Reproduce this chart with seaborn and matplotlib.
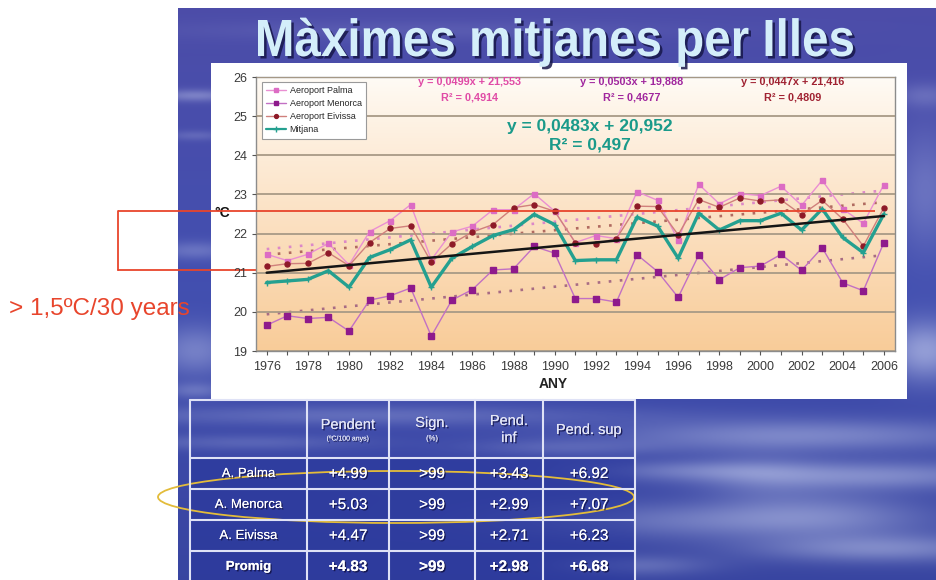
import numpy as np
import pandas as pd
import matplotlib
matplotlib.use("Agg")
import matplotlib.pyplot as plt
import seaborn as sns
from matplotlib import patheffects as pe
from matplotlib.patches import Rectangle, Ellipse, PathPatch
from matplotlib.lines import Line2D
from matplotlib.textpath import TextPath
from matplotlib.font_manager import FontProperties
from matplotlib.transforms import Affine2D

# ---------------- data ----------------
years = list(range(1976, 2007))
palma = [21.47, 21.31, 21.47, 21.75, 21.20, 22.05, 22.33, 22.74, 21.33, 22.04,
         22.19, 22.61, 22.61, 23.02, 22.57, 21.77, 21.95, 21.87, 23.07, 22.85,
         21.83, 23.26, 22.76, 23.02, 22.97, 23.21, 22.72, 23.36, 22.63, 22.26, 23.25]
menorca = [19.66, 19.90, 19.83, 19.86, 19.51, 20.30, 20.41, 20.61, 19.38, 20.30,
           20.57, 21.07, 21.10, 21.67, 21.50, 20.34, 20.34, 20.25, 21.46, 21.03,
           20.37, 21.45, 20.82, 21.13, 21.17, 21.47, 21.06, 21.64, 20.74, 20.54, 21.77]
eivissa = [21.16, 21.23, 21.24, 21.51, 21.18, 21.77, 22.13, 22.20, 21.27, 21.74,
           22.04, 22.23, 22.66, 22.74, 22.57, 21.77, 21.74, 21.87, 22.70, 22.69,
           21.97, 22.87, 22.67, 22.91, 22.83, 22.86, 22.48, 22.85, 22.37, 21.68, 22.66]
mitjana = [20.75, 20.79, 20.83, 21.05, 20.63, 21.39, 21.59, 21.84, 20.63, 21.37,
           21.67, 21.95, 22.10, 22.49, 22.23, 21.31, 21.33, 21.33, 22.42, 22.19,
           21.37, 22.52, 22.09, 22.33, 22.33, 22.52, 22.09, 22.63, 21.90, 21.51, 22.50]

series_names = ["Aeroport Palma", "Aeroport Menorca", "Aeroport Eivissa", "Mitjana"]
trend_slope = [0.0499, 0.0503, 0.0447, 0.0483]
trend_intercept = [21.553, 19.888, 21.416, 20.952]
trend_r2 = ["0,4914", "0,4677", "0,4809", "0,497"]
trend_eq = ["y = 0,0499x + 21,553", "y = 0,0503x + 19,888",
            "y = 0,0447x + 21,416", "y = 0,0483x + 20,952"]

table_rows = ["A. Palma", "A. Menorca", "A. Eivissa", "Promig"]
pendent = ["+4.99", "+5.03", "+4.47", "+4.83"]
signif = [">99", ">99", ">99", ">99"]
pend_inf = ["+3.43", "+2.99", "+2.71", "+2.98"]
pend_sup = ["+6.92", "+7.07", "+6.23", "+6.68"]

# ---------------- style ----------------
sns.set_theme(style="white")
plt.rcParams["font.family"] = ["Liberation Sans", "DejaVu Sans"]

W, H = 936, 580
fig = plt.figure(figsize=(W / 100, H / 100), dpi=100)

# slide background (blue sky with soft cloud streaks)
bg = fig.add_axes([0, 0, 1, 1], zorder=0)
bg.set_xlim(0, W)
bg.set_ylim(H, 0)
bg.axis("off")

yy, xx = np.mgrid[0:H, 0:W].astype(float)
top = np.array([0.30, 0.30, 0.66])
mid = np.array([0.26, 0.31, 0.69])
bot = np.array([0.22, 0.27, 0.63])
t = (yy / H)[..., None]
base = np.where(t < 0.5, top + (mid - top) * (t / 0.5), mid + (bot - mid) * ((t - 0.5) / 0.5))
clouds = [
    (195, 95, 40, 6, 0.35), (195, 135, 30, 5, 0.18), (195, 250, 40, 9, 0.25),
    (195, 350, 40, 25, 0.35), (195, 390, 30, 8, 0.25),
    (925, 190, 30, 60, 0.25), (925, 350, 40, 30, 0.55), (925, 95, 30, 12, 0.2),
    (800, 435, 200, 16, 0.40), (870, 475, 160, 14, 0.42), (730, 520, 180, 18, 0.35),
    (880, 548, 130, 14, 0.42), (690, 470, 100, 10, 0.25), (360, 415, 240, 10, 0.32),
    (250, 442, 110, 8, 0.25), (560, 447, 90, 8, 0.22), (640, 565, 70, 10, 0.25),
    (760, 480, 60, 30, 0.15), (830, 510, 90, 25, 0.2),
    (420, 30, 260, 10, 0.10),
]
w = np.zeros((H, W))
for cx, cy, sx, sy, a in clouds:
    w += a * np.exp(-(((xx - cx) / sx) ** 2 + ((yy - cy) / sy) ** 2))
w = np.clip(w, 0, 0.8)[..., None]
light = np.array([0.84, 0.87, 0.97])
img = base * (1 - w) + light * w
outside = (xx < 178) | (yy < 8)
img[outside] = 1.0
bg.imshow(img, extent=[0, W, H, 0], aspect="auto", interpolation="bilinear", zorder=0)

# chart area panel
bg.add_patch(Rectangle((211, 63), 696, 336, facecolor="white", edgecolor="none", zorder=1))

# title, set in a narrowed bold face
title = "Màximes mitjanes per Illes"
tp = TextPath((0, 0), title, size=100, prop=FontProperties(family="Liberation Sans", weight="bold"))
ext = tp.get_extents()
cap_h = TextPath((0, 0), "M", size=100,
                 prop=FontProperties(family="Liberation Sans", weight="bold")).get_extents().height
x0, x1, base_y, cap_px = 258, 853, 56, 36
sx = (x1 - x0) / ext.width
sy = cap_px / cap_h
for dx, dy, col, z in [(2.5, 2.5, "#17174a", 3), (0, 0, "#d4eefa", 4)]:
    tr = Affine2D().translate(-ext.x0, 0).scale(sx, -sy).translate(x0 + dx, base_y + dy)
    bg.add_patch(PathPatch(tr.transform_path(tp), facecolor=col, edgecolor="none",
                           alpha=0.85 if z == 3 else 1, zorder=z))

# ---------------- line chart ----------------
ax = fig.add_axes([256 / W, (H - 351) / H, (895 - 256) / W, (351 - 77) / H], zorder=2)
grad = np.linspace(0, 1, 256)[:, None]
c_top = np.array([1.0, 0.985, 0.965])
c_bot = np.array([0.975, 0.80, 0.60])
grad_img = c_top + (c_bot - c_top) * grad[..., None] ** 0.9
ax.imshow(grad_img, extent=[0, 1, 0, 1], transform=ax.transAxes, aspect="auto", zorder=0)

df = pd.DataFrame({"ANY": years, "Aeroport Palma": palma, "Aeroport Menorca": menorca,
                   "Aeroport Eivissa": eivissa, "Mitjana": mitjana})

line_colors = ["#ea8fd2", "#c270c4", "#d0807c", "#24a090"]
marker_colors = ["#dc6cc4", "#8e1a8c", "#8e1a28", "#24a090"]
markers = ["s", "s", "o", "+"]
msizes = [3.6, 4.2, 3.6, 4.5]
lwidths = [1.0, 1.0, 1.0, 2.4]
dot_colors = ["#dc88c8", "#a86c84", "#b06a60", "#111111"]

years_arr = np.array(years)
for i, name in enumerate(series_names):
    trend = trend_slope[i] * (years_arr - 1975) + trend_intercept[i]
    if name == "Mitjana":
        sns.lineplot(x=years_arr, y=trend, ax=ax, color="#151515", lw=1.8, zorder=4)
    else:
        sns.lineplot(x=years_arr, y=trend, ax=ax, color=dot_colors[i], lw=1.9,
                     linestyle=(0, (1, 3.2)), zorder=2)

handles = []
for i, name in enumerate(series_names):
    sns.lineplot(data=df, x="ANY", y=name, ax=ax, color=line_colors[i], lw=lwidths[i],
                 marker=markers[i], markersize=msizes[i], markerfacecolor=marker_colors[i],
                 markeredgecolor=marker_colors[i], markeredgewidth=1.0, zorder=3)
    handles.append(Line2D([], [], color=line_colors[i], lw=lwidths[i] if i < 3 else 1.6,
                          marker=markers[i], markersize=msizes[i] - 0.8,
                          markerfacecolor=marker_colors[i], markeredgecolor=marker_colors[i]))

ax.set_xlim(1975.48, 2006.54)
ax.set_ylim(19, 26)
ax.set_yticks(range(19, 27))
ax.set_xticks(range(1976, 2007, 2))
ax.set_xticks(range(1976, 2007), minor=True)
ax.grid(axis="y", color="#a89a86", lw=1.3, zorder=1)
ax.grid(axis="x", visible=False)
ax.set_axisbelow(False)
ax.tick_params(axis="both", which="both", direction="out", length=3, width=0.8,
               colors="#555555", labelcolor="#3a3a3a", labelsize=9, bottom=True, left=True)
ax.tick_params(axis="x", pad=4)
for s in ax.spines.values():
    s.set_color("#8c8c8c")
    s.set_linewidth(1.0)
ax.set_xlabel("")
ax.set_ylabel("")

ax.text((553 - 256) / 639, (351 - 384) / 274, "ANY", transform=ax.transAxes,
        ha="center", va="center", fontsize=10, fontweight="bold", color="#222222")

leg = ax.legend(handles, series_names, loc="upper left", bbox_to_anchor=(0.009, 0.983),
                borderaxespad=0, fontsize=6.5, frameon=True, fancybox=False,
                handlelength=2.2, handletextpad=0.4, labelspacing=0.45, borderpad=0.5)
leg.get_frame().set_edgecolor("#9a9a9a")
leg.get_frame().set_facecolor("white")
leg.get_frame().set_linewidth(0.8)
leg.get_frame().set_alpha(1)
leg.set_zorder(6)

# ---------------- overlay: equations, annotations, table ----------------
ov = fig.add_axes([0, 0, 1, 1], zorder=5)
ov.set_xlim(0, W)
ov.set_ylim(H, 0)
ov.axis("off")
ov.patch.set_alpha(0)

eq_colors = ["#e04aa6", "#a0269e", "#a02232", "#1a9a8a"]
eq_pos = [(470, 82, 98), (632, 82, 98), (793, 82, 98)]
for i, (x, y1, y2) in enumerate(eq_pos):
    ov.text(x, y1, trend_eq[i], ha="center", va="center", fontsize=7.8,
            fontweight="bold", color=eq_colors[i])
    ov.text(x, y2, "R² = " + trend_r2[i], ha="center", va="center", fontsize=7.8,
            fontweight="bold", color=eq_colors[i])
ov.text(590, 127, trend_eq[3], ha="center", va="center", fontsize=12.5,
        fontweight="bold", color=eq_colors[3])
ov.text(590, 145, "R² = " + trend_r2[3], ha="center", va="center", fontsize=12.5,
        fontweight="bold", color=eq_colors[3])

# 1,5 ºC marker box
red = "#e8452c"
ov.plot([118, 875], [211, 211], color=red, lw=1.3, solid_capstyle="butt")
ov.plot([118, 118], [211, 270], color=red, lw=1.3)
bg.plot([118, 257], [270, 270], color=red, lw=1.3, zorder=1.5)
bg.text(222, 213, "°C", ha="center", va="center", fontsize=10, fontweight="bold",
        color="#111111", zorder=3)
ov.text(9, 309, "> 1,5ºC/30 years", ha="left", va="center", fontsize=17.5, color=red)

# trend table
tcol = [190, 307, 389, 475, 543, 635]
trow = [400, 458, 489, 520, 551, 580]
ov.add_patch(Rectangle((190, 400), 445, 58, facecolor="#3a46a8", alpha=0.25, edgecolor="none"))
ov.add_patch(Rectangle((190, 458), 445, 122, facecolor="#26349a", alpha=0.55, edgecolor="none"))
for x in tcol:
    ov.plot([x, x], [400, 582], color="#dfe2f6", lw=1.5)
for y in trow[:-1]:
    ov.plot([190, 635], [y, y], color="#dfe2f6", lw=1.5)

shadow = [pe.withSimplePatchShadow(offset=(1, -1), shadow_rgbFace="#101040", alpha=0.8), pe.Normal()]
hc = "#e4e6f6"
ccen = [(tcol[k] + tcol[k + 1]) / 2 for k in range(5)]
ov.text(ccen[1], 425, "Pendent", ha="center", va="center", fontsize=10.5, color=hc, path_effects=shadow)
ov.text(ccen[1], 439, "(ºC/100 anys)", ha="center", va="center", fontsize=5, color=hc, path_effects=shadow)
ov.text(ccen[2], 423, "Sign.", ha="center", va="center", fontsize=10.5, color=hc, path_effects=shadow)
ov.text(ccen[2], 439, "(%)", ha="center", va="center", fontsize=5.5, color=hc, path_effects=shadow)
ov.text(ccen[3], 421, "Pend.", ha="center", va="center", fontsize=10.5, color=hc, path_effects=shadow)
ov.text(ccen[3], 438, "inf", ha="center", va="center", fontsize=10.5, color=hc, path_effects=shadow)
ov.text(ccen[4], 430, "Pend. sup", ha="center", va="center", fontsize=10.5, color=hc, path_effects=shadow)

row_y = [474, 505, 536, 567]
for r, name in enumerate(table_rows):
    bold = "bold" if name == "Promig" else "normal"
    vals = [pendent[r], signif[r], pend_inf[r], pend_sup[r]]
    ov.text(ccen[0], row_y[r], name, ha="center", va="center", fontsize=9.5,
            fontweight=bold, color="white", path_effects=shadow)
    for k, v in enumerate(vals):
        ov.text(ccen[k + 1], row_y[r], v, ha="center", va="center", fontsize=11,
                fontweight=bold, color="white", path_effects=shadow)

ov.add_patch(Ellipse((396, 497), 476, 52, facecolor="none", edgecolor="#e3bc3a", lw=1.3))

fig.savefig("out.png", dpi=100)
